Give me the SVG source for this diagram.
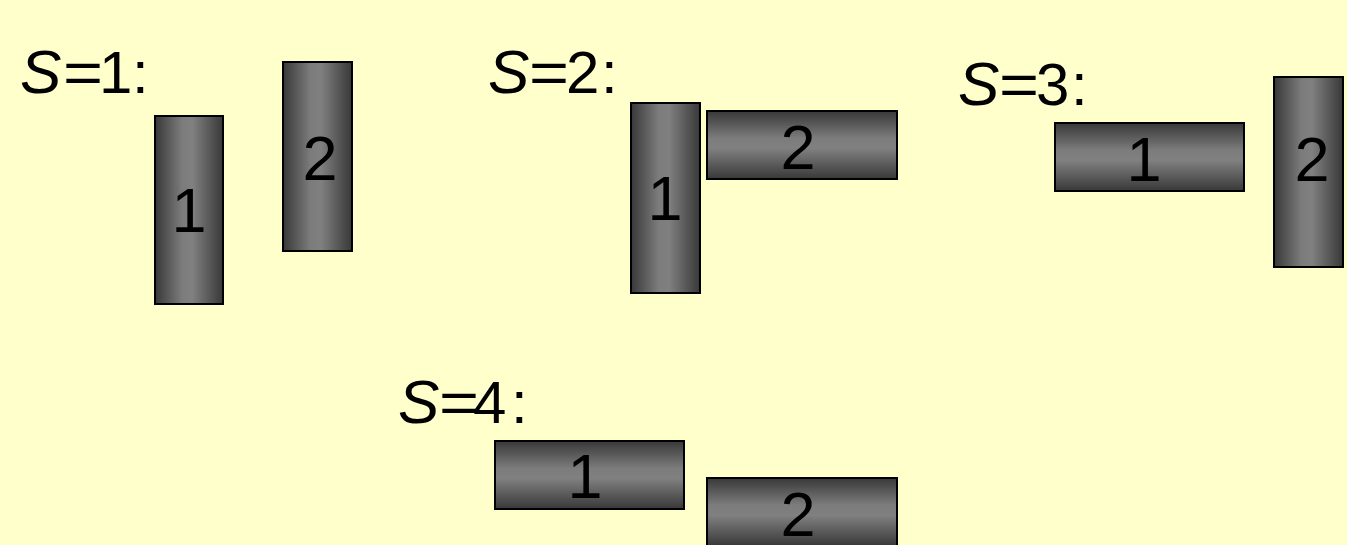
<svg xmlns="http://www.w3.org/2000/svg" width="1347" height="545" viewBox="0 0 1347 545">
<style>
.lbl{font-family:"Liberation Sans",Arial,sans-serif;font-size:60px;fill:#000}
.s{font-style:italic;font-size:62px}
.num{font-family:"Liberation Sans",Arial,sans-serif;font-size:63px;fill:#000;text-anchor:middle}
.v{fill:url(#gv);stroke:#000;stroke-width:2}
.h{fill:url(#gh);stroke:#000;stroke-width:2}
</style>
<defs>
<linearGradient id="gv" x1="0" y1="0" x2="1" y2="0">
<stop offset="0" stop-color="#383838"/>
<stop offset="0.4" stop-color="#7c7c7c"/>
<stop offset="0.55" stop-color="#808080"/>
<stop offset="1" stop-color="#383838"/>
</linearGradient>
<linearGradient id="gh" x1="0" y1="0" x2="0" y2="1">
<stop offset="0" stop-color="#383838"/>
<stop offset="0.4" stop-color="#7c7c7c"/>
<stop offset="0.55" stop-color="#808080"/>
<stop offset="1" stop-color="#383838"/>
</linearGradient>
</defs>
<rect x="0" y="0" width="1347" height="545" fill="#FFFFCC"/>
<g id="label-s1"><text class="lbl" y="93"><tspan class="s" x="20">S</tspan><tspan x="63" textLength="40" lengthAdjust="spacingAndGlyphs">=</tspan><tspan x="99">1</tspan><tspan x="132">:</tspan></text></g>
<g id="s1-box1"><rect class="v" x="155" y="116" width="68" height="188"/><text class="num" x="189" y="232">1</text></g>
<g id="s1-box2"><rect class="v" x="283" y="62" width="69" height="189"/><text class="num" x="320" y="180">2</text></g>
<g id="label-s2"><text class="lbl" y="93"><tspan class="s" x="488">S</tspan><tspan x="529" textLength="40" lengthAdjust="spacingAndGlyphs">=</tspan><tspan x="566">2</tspan><tspan x="601">:</tspan></text></g>
<g id="s2-box1"><rect class="v" x="631" y="103" width="69" height="190"/><text class="num" x="665" y="220">1</text></g>
<g id="s2-box2"><rect class="h" x="707" y="111" width="190" height="68"/><text class="num" x="798" y="169">2</text></g>
<g id="label-s3"><text class="lbl" y="105"><tspan class="s" x="958">S</tspan><tspan x="999" textLength="40" lengthAdjust="spacingAndGlyphs">=</tspan><tspan x="1036">3</tspan><tspan x="1071">:</tspan></text></g>
<g id="s3-box1"><rect class="h" x="1055" y="123" width="189" height="68"/><text class="num" x="1144" y="181">1</text></g>
<g id="s3-box2"><rect class="v" x="1274" y="77" width="69" height="190"/><text class="num" x="1312" y="181">2</text></g>
<g id="label-s4"><text class="lbl" y="423"><tspan class="s" x="398">S</tspan><tspan x="439" textLength="40" lengthAdjust="spacingAndGlyphs">=</tspan><tspan x="473">4</tspan><tspan x="511">:</tspan></text></g>
<g id="s4-box1"><rect class="h" x="495" y="441" width="189" height="68"/><text class="num" x="585" y="498">1</text></g>
<g id="s4-box2"><rect class="h" x="707" y="478" width="190" height="68"/><text class="num" x="798" y="536">2</text></g>
<g id="connectors"></g>
</svg>
